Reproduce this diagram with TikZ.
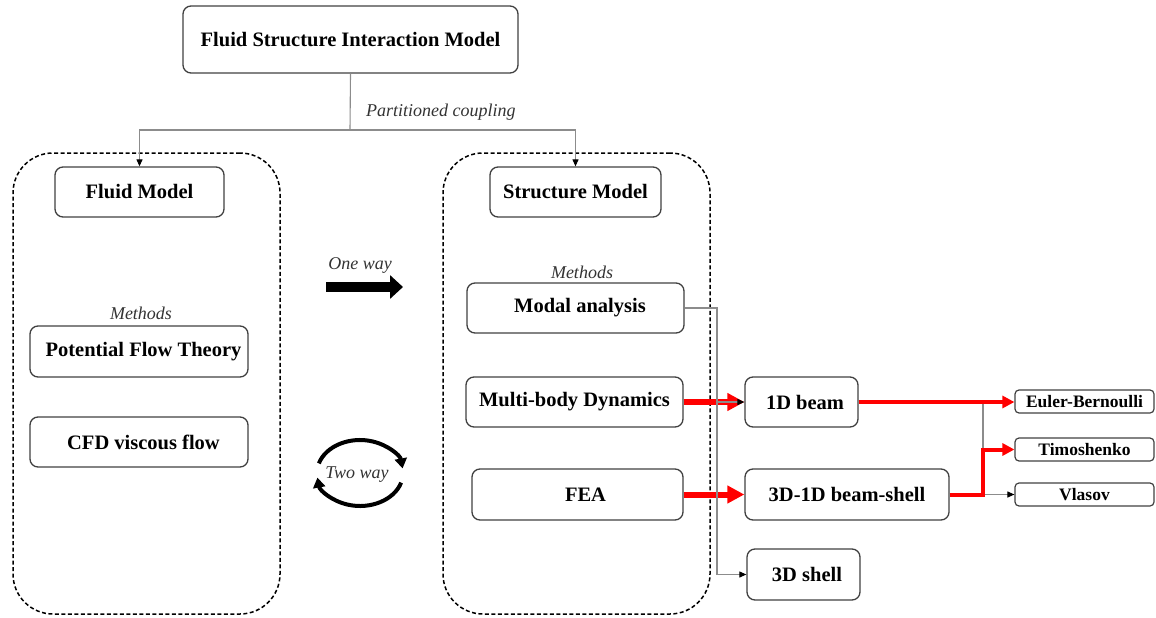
\documentclass[tikz,border=0pt]{standalone}
\usepackage{fontspec}
\setmainfont{Liberation Serif}
\usetikzlibrary{arrows.meta}
\definecolor{boxline}{HTML}{404040}
\definecolor{linkgray}{HTML}{8C8C8C}
\definecolor{labelgray}{HTML}{333333}
\begin{document}
\begin{tikzpicture}[x=1pt,y=-1pt,
  box/.style={draw=boxline, line width=1.3pt, rounded corners=8pt, inner sep=0pt,
    font=\fontsize{20.5}{24}\selectfont\bfseries},
  smallbox/.style={draw=boxline, line width=1.2pt, rounded corners=4pt, inner sep=0pt,
    minimum width=139pt, minimum height=23pt,
    font=\fontsize{17.5}{20}\selectfont\bfseries},
  container/.style={draw=black, line width=1.5pt, dash pattern=on 4pt off 2.5pt,
    rounded corners=40pt, inner sep=0pt},
  note/.style={font=\fontsize{18}{21}\selectfont\itshape, text=labelgray, inner sep=0pt},
  gline/.style={draw=linkgray, line width=1.1pt},
  tip/.style={-{Triangle[length=7pt,width=6pt,color=black]}},
  redbig/.style={draw=red, line width=6pt, -{Triangle[length=17pt,width=17pt]}},
  redmid/.style={draw=red, line width=4pt, sharp corners, -{Triangle[length=12pt,width=12pt]}},
]
\useasboundingbox (0,0) rectangle (1156,618);

% dashed groups
\node[container, minimum width=267pt, minimum height=461pt] (fluidgrp) at (146.5,383.5) {};
\node[container, minimum width=267pt, minimum height=461pt] (structgrp) at (576.5,383.5) {};

% top level
\node[box, minimum width=335pt, minimum height=67pt] (fsi) at (350.5,39.5) {Fluid Structure Interaction Model};
\node[box, minimum width=169pt, minimum height=50pt] (fluid) at (139.5,192) {Fluid Model};
\node[box, minimum width=171pt, minimum height=50pt] (struct) at (575.5,192) {Structure Model};

% fluid methods
\node[note] (fmeth) at (141,313) {Methods};
\node[box, minimum width=218pt, minimum height=51pt] (pft) at (139,351.5) {\hspace*{9pt}Potential Flow Theory};
\node[box, minimum width=218pt, minimum height=50pt] (cfd) at (139,442) {\hspace*{9pt}CFD viscous flow};

% structure methods
\node[note] (smeth) at (582,272) {Methods};
\node[box, minimum width=217pt, minimum height=50pt] (modal) at (575.5,308) {\hspace*{9pt}Modal analysis};
\node[box, minimum width=217pt, minimum height=50pt] (mbd) at (574.5,402) {Multi-body Dynamics};
\node[box, minimum width=211pt, minimum height=51pt] (fea) at (577.5,494.5) {\hspace*{16pt}FEA};

% structural representations
\node[box, minimum width=113pt, minimum height=50pt] (beam1d) at (801.5,402) {\hspace*{7pt}1D beam};
\node[box, minimum width=204pt, minimum height=51pt] (bshell) at (847,494.5) {3D-1D beam-shell};
\node[box, minimum width=113pt, minimum height=51pt] (shell3d) at (803.5,574.5) {\hspace*{7pt}3D shell};

% beam theories
\node[smallbox] (euler) at (1084.5,401.5) {Euler-Bernoulli};
\node[smallbox] (timo) at (1084.5,449.5) {Timoshenko};
\node[smallbox] (vlasov) at (1084.5,494.5) {Vlasov};

% partitioned coupling
\coordinate (split) at (350,130);
\draw[gline] (fsi.south) -- (split);
\draw[gline, tip] (split) -| (fluid.north);
\draw[gline, tip] (split) -| (struct.north);
\node[note, anchor=west] (pc) at (366,112) {Partitioned coupling};

% one way coupling
\node[note] (oneway) at (360,265) {One way};
\coordinate (ow1) at (326,287);
\coordinate (ow2) at (403,287);
\draw[line width=10pt, -{Triangle[length=13pt,width=23pt]}] (ow1) -- (ow2);

% two way coupling
\coordinate (tw) at (360,473);
\node[note] (twoway) at (357,475) {Two way};
\draw[line width=4pt, -{Triangle[length=10pt,width=12pt]}]
  (tw) ++(197:43 and 33) arc[start angle=197, end angle=352, x radius=43, y radius=33];
\draw[line width=4pt, -{Triangle[length=10pt,width=12pt]}]
  (tw) ++(17:43 and 33) arc[start angle=17, end angle=172, x radius=43, y radius=33];

% methods to representations
\draw[redbig] (mbd.east) -- (beam1d.west);
\draw[redbig] (fea.east) -- (bshell.west);
\coordinate (trunk) at (717,308);
\draw[gline, tip] (modal.east) -- (trunk) |- (shell3d.west);
\draw[gline, tip] (trunk |- beam1d.west) -- (beam1d.west);

% representations to beam theories
\coordinate (jn) at (983,494.5);
\draw[gline] (jn |- euler.west) -- (jn);
\draw[gline, tip] (jn) -- (vlasov.west);
\draw[redmid] (beam1d.east) -- (beam1d.east -| euler.west);
\draw[redmid] (bshell.east) -- (jn) |- (timo.west);
\end{tikzpicture}
\end{document}
